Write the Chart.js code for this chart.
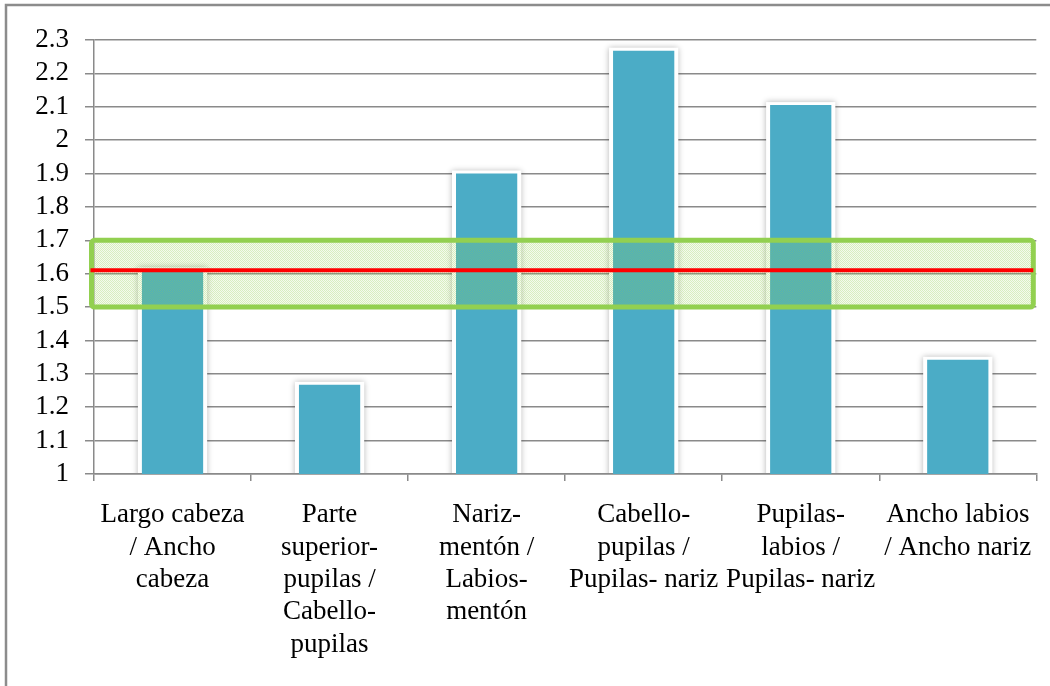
<!DOCTYPE html>
<html>
<head>
<meta charset="utf-8">
<script src="https://cdn.jsdelivr.net/npm/chart.js@4"></script>
<style>
  body { margin: 0; background: #fff; }
  canvas { display: block; }
</style>
</head>
<body>
<canvas id="myChart" width="1050" height="686"></canvas>
<script>
const categories = [
    ['Largo cabeza', '/ Ancho', 'cabeza'],
    ['Parte', 'superior-', 'pupilas /', 'Cabello-', 'pupilas'],
    ['Nariz-', 'mentón /', 'Labios-', 'mentón'],
    ['Cabello-', 'pupilas /', 'Pupilas- nariz'],
    ['Pupilas-', 'labios /', 'Pupilas- nariz'],
    ['Ancho labios', '/ Ancho nariz']
];
const ratios = [1.61, 1.267, 1.90, 2.268, 2.105, 1.342];

// golden ratio reference line and tolerance band
const goldenLine = 1.61;
const bandLow = 1.5;
const bandHigh = 1.7;

const gridColor = '#8a8a8a';

// little checker pattern for the band fill
function dottedFill(ctx) {
    const p = document.createElement('canvas');
    p.width = 2; p.height = 2;
    const pc = p.getContext('2d');
    pc.fillStyle = 'rgba(146, 208, 80, 0.36)';
    pc.fillRect(0, 0, 1, 1);
    pc.fillRect(1, 1, 1, 1);
    pc.fillStyle = 'rgba(146, 208, 80, 0.1)';
    pc.fillRect(1, 0, 1, 1);
    pc.fillRect(0, 1, 1, 1);
    return ctx.createPattern(p, 'repeat');
}

const frame = {
    id: 'frame',
    beforeDraw(chart) {
        const c = chart.ctx;
        c.save();
        c.strokeStyle = '#8c8c8c';
        c.lineWidth = 2.5;
        c.strokeRect(6, 5, chart.width + 20, chart.height + 20);
        c.restore();
    }
};

// white halo + soft shadow behind each bar
const barHalo = {
    id: 'barHalo',
    beforeDatasetsDraw(chart) {
        const c = chart.ctx;
        const area = chart.chartArea;
        c.save();
        c.beginPath();
        c.rect(area.left + 1, 0, area.right - area.left, area.bottom - 1);
        c.clip();
        chart.getDatasetMeta(0).data.forEach(bar => {
            const w = bar.width;
            c.shadowColor = 'rgba(0, 0, 0, 0.3)';
            c.shadowBlur = 6;
            c.fillStyle = '#fff';
            c.fillRect(bar.x - w / 2 - 4, bar.y - 3, w + 8, bar.base - bar.y + 6);
        });
        c.restore();
    }
};

const goldenBand = {
    id: 'goldenBand',
    afterDatasetsDraw(chart) {
        const c = chart.ctx;
        const y = chart.scales.y;
        const area = chart.chartArea;
        const top = y.getPixelForValue(bandHigh);
        const bottom = y.getPixelForValue(bandLow);
        const left = area.left - 2.5;
        const right = area.right - 3;
        c.save();
        c.fillStyle = dottedFill(c);
        c.fillRect(left, top, right - left, bottom - top);
        c.strokeStyle = '#92D050';
        c.lineWidth = 5;
        c.lineJoin = 'round';
        c.beginPath();
        c.roundRect(left, top, right - left, bottom - top, 3);
        c.stroke();

        const gy = y.getPixelForValue(goldenLine);
        c.strokeStyle = '#FF0000';
        c.lineWidth = 4;
        c.beginPath();
        c.moveTo(left - 1, gy);
        c.lineTo(right, gy);
        c.stroke();
        c.restore();
    }
};

const ctx = document.getElementById('myChart');

new Chart(ctx, {
    type: 'bar',
    data: {
        labels: categories,
        datasets: [{
            label: '',
            data: ratios,
            backgroundColor: '#4BACC6',
            borderWidth: 0,
            categoryPercentage: 1,
            barPercentage: 0.39,
        }]
    },
    options: {
        responsive: false,
        animation: false,
        layout: {
            padding: { left: 0, top: 40, right: 9, bottom: 0 }
        },
        scales: {
            y: {
                min: 1,
                max: 2.3,
                afterFit: s => { s.width = 94; },
                ticks: {
                    stepSize: 0.1,
                    autoSkip: false,
                    color: '#000',
                    padding: 16,
                    font: { family: 'Liberation Serif', size: 27 },
                    callback: v => Math.round(v * 10) / 10
                },
                grid: {
                    color: gridColor,
                    lineWidth: 1.5,
                    tickLength: 9,
                },
                border: { color: gridColor, width: 1.5 }
            },
            x: {
                afterFit: s => { s.height = 212; },
                ticks: {
                    color: '#000',
                    padding: 18,
                    maxRotation: 0,
                    autoSkip: false,
                    font: { family: 'Liberation Serif', size: 27, lineHeight: 1.2 }
                },
                grid: {
                    drawOnChartArea: false,
                    color: gridColor,
                    lineWidth: 1.5,
                    tickLength: 7,
                },
                border: { color: gridColor, width: 1.5 }
            }
        },
        plugins: {
            legend: { display: false },
            tooltip: { enabled: false }
        }
    },
    plugins: [frame, barHalo, goldenBand]
});
</script>
</body>
</html>
